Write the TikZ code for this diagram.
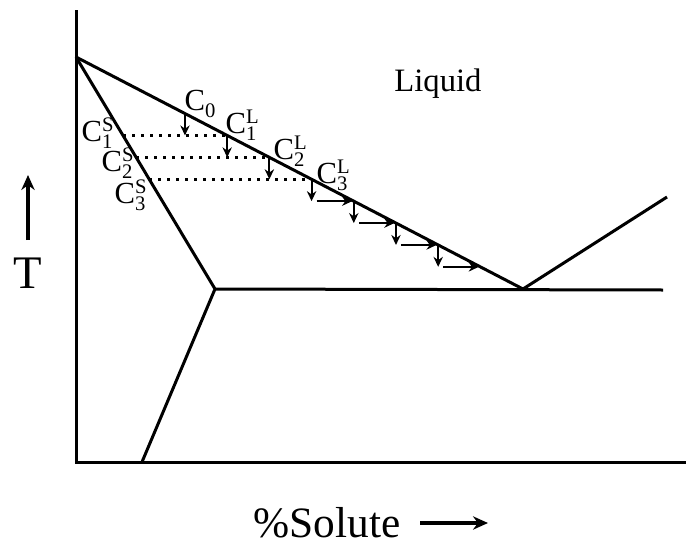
\documentclass[tikz,border=0pt]{standalone}
\usepackage{fontspec}
\setmainfont{Liberation Serif}
\usetikzlibrary{arrows.meta, calc}

\newcommand{\scr}{\fontsize{6.2}{7}\selectfont}
\newcommand{\conc}[2]{C\rlap{\raisebox{0.75ex}{\scr #2}}\raisebox{-0.45ex}{\scr #1}}

\begin{document}
\begin{tikzpicture}[x=0.3pt, y=-0.3pt,
    curve/.style={line width=0.9pt},
    stepdown/.style={line width=0.6pt, -{Stealth[length=3pt, width=2.8pt]}},
    tie/.style={line width=0.8pt, dash pattern=on 0.9pt off 1.8pt},
    lbl/.style={font=\fontsize{9.2}{10}\selectfont, inner sep=0pt},
    big/.style={line width=1.2pt, -{Stealth[length=4.5pt, width=4pt]}}]
    \useasboundingbox (0, 0) rectangle (689, 546);

    % axes
    \coordinate (ytop) at (76, 10);
    \coordinate (O) at (76, 462);
    \coordinate (xend) at (686, 462);
    \draw[curve] (ytop) -- (O) -- (xend);

    % liquidus, solidus, eutectic
    \coordinate (A) at (76, 57);
    \coordinate (B) at (215, 289);
    \coordinate (E) at (523, 289);
    \coordinate (R) at (667, 197);
    \coordinate (F) at (663, 290);
    \coordinate (S) at (142, 462);
    \draw[curve] (A) -- (E) -- (R);
    \draw[curve] (A) -- (B) -- (S);
    \draw[curve] (B) -- (F);

    % points on liquidus (P) and solidus (D)
    \foreach \i in {0,...,7} {
        \coordinate (P\i) at ($(A)!{0.2438+0.0944*\i}!(E)$);
        \coordinate (D\i) at ($(A)!{0.2438+0.0944*\i}!(B)$);
    }
    \foreach \i [count=\j] in {0,...,6}
        \draw[stepdown] (P\i) -- (P\i |- P\j);
    \foreach \j in {1, 2, 3}
        \draw[tie] (D\j) -- (P\j);
    \foreach \i/\j in {3/4, 4/5, 5/6, 6/7}
        \draw[stepdown, shorten <=1.5pt, shorten >=0.5pt] (P\i |- P\j) -- (P\j);

    % labels
    \node[lbl] (c0) at (200, 104) {C\raisebox{-0.45ex}{\scr 0}};
    \node[lbl] (c1l) at (241, 125) {\conc{1}{L}};
    \node[lbl] (c2l) at (289, 151) {\conc{2}{L}};
    \node[lbl] (c3l) at (332, 175) {\conc{3}{L}};
    \node[lbl] (c1s) at (97, 133) {\conc{1}{S}};
    \node[lbl] (c2s) at (117, 163) {\conc{2}{S}};
    \node[lbl] (c3s) at (130, 195) {\conc{3}{S}};

    \node[anchor=base, font=\fontsize{9.8}{12}\selectfont] (liquid) at (438, 91) {Liquid};

    \node[anchor=base, font=\fontsize{14}{16}\selectfont, inner sep=0pt] (T) at (28, 288) {T};
    \coordinate (T0) at (28, 240);
    \coordinate (T1) at (28, 175);
    \draw[big] (T0) -- (T1);

    \node[anchor=base, font=\fontsize{13}{15}\selectfont, inner sep=0pt] (solute) at (327, 537) {\%Solute};
    \coordinate (X0) at (420, 523);
    \coordinate (X1) at (488, 523);
    \draw[big] (X0) -- (X1);
\end{tikzpicture}
\end{document}
